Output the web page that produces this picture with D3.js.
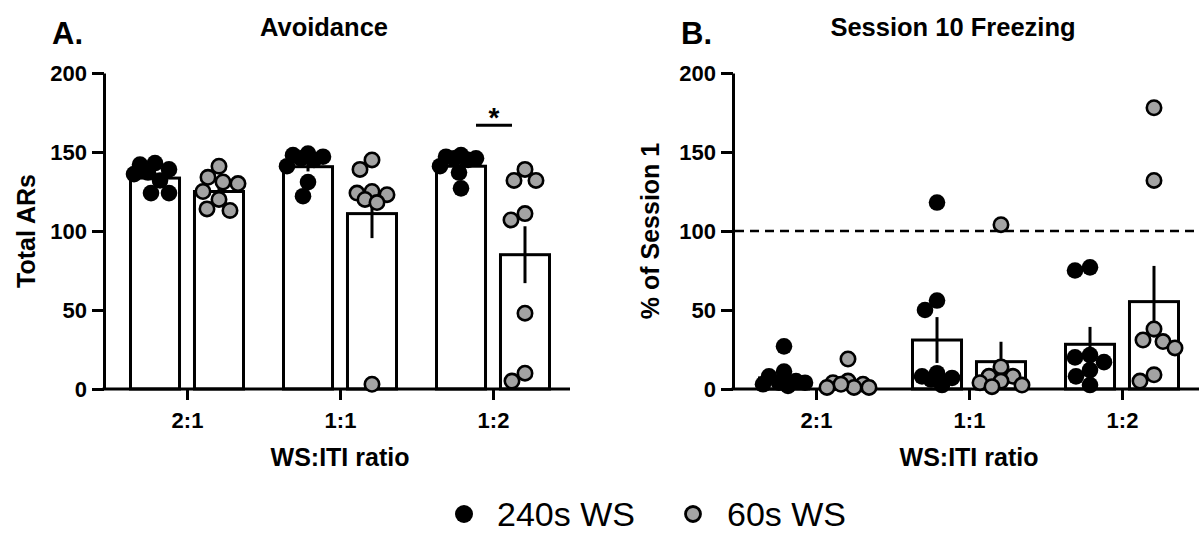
<!DOCTYPE html>
<html>
<meta charset="utf-8">
<title>Avoidance and Session 10 Freezing</title>
<style>
	body { margin: 0; background: #ffffff; }
	text { font-family: "Liberation Sans", Arial, sans-serif; fill: #000; }
	.tick text { font-size: 22px; font-weight: bold; }
	.axis path, .axis line { stroke: #000; stroke-width: 3; }
	.title { font-size: 25.5px; font-weight: bold; }
	.letter { font-size: 31px; font-weight: bold; }
	.axis-title { font-size: 25px; font-weight: bold; }
	.legend text { font-size: 34px; }
</style>
<body>
<div id="chart"></div>
<script src="https://cdn.jsdelivr.net/npm/d3@7"></script>
<script>

	// Categories
	var groups = ["2:1", "1:1", "1:2"];
	var series = ["240s WS", "60s WS"];
	var yTicks = [0, 50, 100, 150, 200];

	// A. Avoidance (individual animals, per group)
	var avoid240 = [
		[143, 142, 139, 137, 136, 132, 124, 124],
		[148, 147, 146, 149, 145, 141, 131, 122],
		[147, 146, 145, 148, 146, 141, 137, 127]
	];
	var avoid60 = [
		[141, 134, 131, 130, 125, 120, 114, 113],
		[145, 139, 125, 124, 123, 120, 118, 3],
		[139, 132, 132, 111, 107, 48, 10, 5]
	];
	var avoidMean240 = [133.5, 140.7, 141],
		avoidSem240 = [2.5, 3, 2];
	var avoidMean60 = [125, 111, 85],
		avoidSem60 = [3.5, 15.5, 18];

	// B. Session 10 freezing, % of session 1
	var freeze240 = [
		[27, 8, 11, 4, 4, 5, 2, 3],
		[118, 56, 50, 10, 6, 7, 8, 2.5],
		[75, 77, 20, 21.5, 17, 12, 8, 2.5]
	];
	var freeze60 = [
		[19, 5, 3, 4, 1, 3, 1, 1],
		[104, 14, 8, 8, 5, 2.5, 4, 1.5],
		[178, 132, 38, 30, 31, 26, 9, 5]
	];
	var freezeMean240 = [7, 31, 28.3],
		freezeSem240 = [3, 14.5, 11];
	var freezeMean60 = [4.5, 17.3, 55.3],
		freezeSem60 = [2.3, 12.6, 22.6];

	var colors = { "240s WS": "#000000", "60s WS": "#a3a3a3" };

	// Canvas
	var W = 1202, H = 534;
	var svg = d3.select("#chart").append("svg")
		.attr("width", W)
		.attr("height", H);

	var plotTop = 73, plotBottom = 389, plotWidth = 466;

	var y = d3.scaleLinear().domain([0, 200]).range([plotBottom, plotTop]);
	var x = d3.scalePoint().domain(groups).range([83, 389]);
	var xSub = d3.scaleBand().domain(series).range([-56.5, 56.5]).paddingInner(0.234);

	// simple dodge so points sit side by side like a scatter-dot plot
	function dodge(values, minDist, maxOff) {
		var placed = [];
		var order = values.map(function (v, i) { return i; })
			.sort(function (a, b) { return values[b] - values[a]; });
		var out = new Array(values.length);
		order.forEach(function (i) {
			var cy = y(values[i]);
			var best = 0, bestDist = -1;
			for (var k = 0; k <= 2 * maxOff; k++) {
				var off = (k % 2 === 0 ? 1 : -1) * Math.ceil(k / 2);
				var minD = Infinity;
				placed.forEach(function (p) {
					var d = Math.hypot(p.x - off, p.y - cy);
					if (d < minD) minD = d;
				});
				if (minD >= minDist) { best = off; bestDist = minD; break; }
				if (minD > bestDist) { bestDist = minD; best = off; }
			}
			placed.push({ x: best, y: cy });
			out[i] = { dx: best, cy: cy, v: values[i] };
		});
		return out;
	}

	function panel(x0, letter, title, yLabel, pts240, pts60, m240, s240, m60, s60, opts) {
		var g = svg.append("g").attr("transform", "translate(" + x0 + ",0)");

		if (opts.refLine !== undefined) {
			g.append("line")
				.attr("x1", 2).attr("x2", plotWidth)
				.attr("y1", y(opts.refLine)).attr("y2", y(opts.refLine))
				.attr("stroke", "#000").attr("stroke-width", 2.5)
				.attr("stroke-dasharray", "9,6");
		}

		var sets = [
			{ s: series[0], pts: pts240, mean: m240, sem: s240 },
			{ s: series[1], pts: pts60, mean: m60, sem: s60 }
		];

		// bars
		sets.forEach(function (set) {
			groups.forEach(function (grp, gi) {
				var bx = x(grp) + xSub(set.s);
				g.append("rect")
					.attr("x", bx)
					.attr("y", y(set.mean[gi]))
					.attr("width", xSub.bandwidth())
					.attr("height", y(0) - y(set.mean[gi]))
					.attr("fill", "#fff")
					.attr("stroke", "#000")
					.attr("stroke-width", 3);
			});
		});

		// error bars (SEM)
		sets.forEach(function (set) {
			groups.forEach(function (grp, gi) {
				var cx = x(grp) + xSub(set.s) + xSub.bandwidth() / 2;
				g.append("line")
					.attr("x1", cx).attr("x2", cx)
					.attr("y1", y(set.mean[gi] + set.sem[gi]))
					.attr("y2", y(Math.max(0, set.mean[gi] - set.sem[gi])))
					.attr("stroke", "#000").attr("stroke-width", 3);
			});
		});

		// axes
		var yAxis = d3.axisLeft(y).tickValues(yTicks).tickSize(12).tickPadding(5).tickSizeOuter(0);
		g.append("g").attr("class", "axis").call(yAxis);

		var xAxis = d3.axisBottom(x).tickSize(11).tickPadding(12).tickSizeOuter(0);
		var xg = g.append("g").attr("class", "axis").attr("transform", "translate(0," + plotBottom + ")").call(xAxis);
		xg.select(".domain").remove();
		xg.append("line").attr("x1", -1.5).attr("x2", plotWidth).attr("stroke", "#000").attr("stroke-width", 3);

		// points
		sets.forEach(function (set) {
			groups.forEach(function (grp, gi) {
				var cx = x(grp) + xSub(set.s) + xSub.bandwidth() / 2;
				var dots = dodge(set.pts[gi], 15, 21);
				g.selectAll(null).data(dots).enter().append("circle")
					.attr("cx", function (d) { return cx + d.dx; })
					.attr("cy", function (d) { return d.cy; })
					.attr("r", set.s === series[0] ? 8.3 : 7.2)
					.attr("fill", colors[set.s])
					.attr("stroke", "#000")
					.attr("stroke-width", set.s === series[0] ? 0 : 2.6);
			});
		});

		// significance marker
		if (opts.sig) {
			var sx = x(opts.sig.group);
			g.append("line")
				.attr("x1", sx - 17).attr("x2", sx + 19)
				.attr("y1", y(opts.sig.y)).attr("y2", y(opts.sig.y))
				.attr("stroke", "#000").attr("stroke-width", 3);
			g.append("text")
				.attr("x", sx + 1).attr("y", y(opts.sig.y) + 2)
				.attr("text-anchor", "middle")
				.style("font-size", "28px").style("font-weight", "bold")
				.text("*");
		}

		// texts
		g.append("text").attr("class", "letter").attr("x", -52).attr("y", 44).text(letter);
		g.append("text").attr("class", "title").attr("x", opts.titleX).attr("y", 36)
			.attr("text-anchor", "middle").text(title);
		g.append("text").attr("class", "axis-title")
			.attr("transform", "translate(" + opts.yLabelX + "," + ((plotTop + plotBottom) / 2) + ") rotate(-90)")
			.attr("text-anchor", "middle").text(yLabel);
		g.append("text").attr("class", "axis-title")
			.attr("x", x(groups[1])).attr("y", 466)
			.attr("text-anchor", "middle").text("WS:ITI ratio");
	}

	panel(104, "A.", "Avoidance", "Total ARs",
		avoid240, avoid60, avoidMean240, avoidSem240, avoidMean60, avoidSem60,
		{ titleX: 220, yLabelX: -69, sig: { group: "1:2", y: 167 } });

	panel(733, "B.", "Session 10 Freezing", "% of Session 1",
		freeze240, freeze60, freezeMean240, freezeSem240, freezeMean60, freezeSem60,
		{ titleX: 220, yLabelX: -74, refLine: 100 });

	// legend
	var legend = svg.append("g").attr("class", "legend");
	var legendItems = [
		{ s: series[0], cx: 464, tx: 497 },
		{ s: series[1], cx: 693, tx: 727 }
	];
	legendItems.forEach(function (it, i) {
		legend.append("circle")
			.attr("cx", it.cx).attr("cy", 514)
			.attr("r", i === 0 ? 9 : 7.5)
			.attr("fill", colors[it.s])
			.attr("stroke", "#000")
			.attr("stroke-width", i === 0 ? 0 : 2.8);
		legend.append("text").attr("x", it.tx).attr("y", 526).text(it.s);
	});

</script>
</body>
</html>
